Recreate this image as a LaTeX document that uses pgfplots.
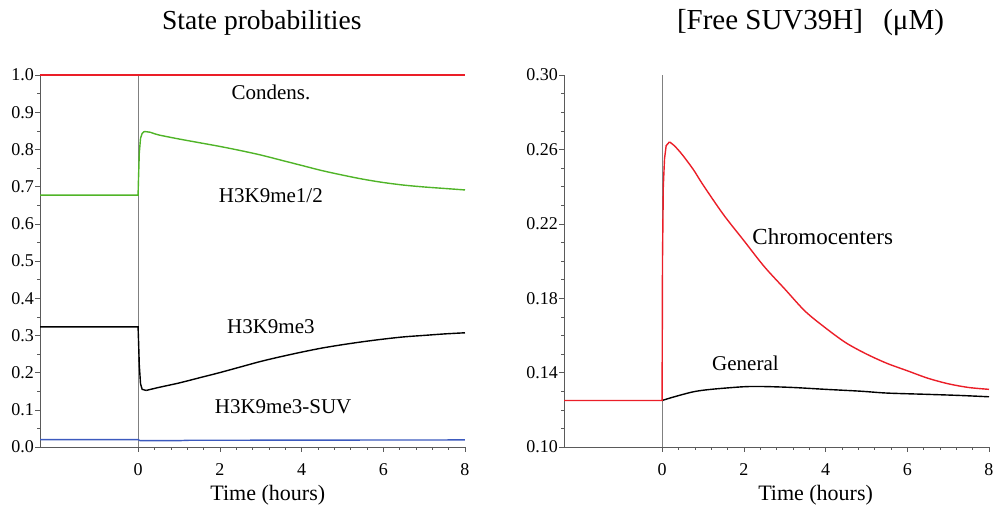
\documentclass[border=0pt]{standalone}
\usepackage{pgfplots}
\pgfplotsset{compat=1.18}
\usepackage{fontspec}
\setmainfont{Liberation Serif}
\newfontfamily\tickfont{Liberation Serif}
\newcommand{\tf}{\tickfont\fontsize{18}{20}\selectfont}
\newcommand{\xt}[1]{\tf\rule{0pt}{20pt}#1}
\definecolor{cred}{RGB}{235,30,40}
\definecolor{cgreen}{RGB}{80,180,40}
\definecolor{cblue}{RGB}{60,90,190}
\definecolor{caxis}{RGB}{90,90,90}
\pgfplotsset{
  myaxis/.style={
    scale only axis, width=425pt, height=372pt,
    axis lines=left, axis line style={caxis, -, line width=0.6pt},
    xmin=-2.4, xmax=8,
    xtick={0,2,4,6,8}, minor x tick num=4,
    tick align=outside, major tick length=5pt, minor tick length=3pt,
    tick style={caxis, line width=0.5pt},
    clip=false,
    every axis plot/.append style={line width=1.4pt},
  }
}
\begin{document}
\begin{tikzpicture}
\begin{axis}[myaxis, at={(0pt,0pt)}, anchor=south west,
  xticklabels={\xt{0},\xt{2},\xt{4},\xt{6},\xt{8}},
  every y tick label/.append style={inner xsep=1pt},
  ymin=0, ymax=1, ytick={0,0.1,0.2,0.3,0.4,0.5,0.6,0.7,0.8,0.9,1.0}, minor y tick num=1,
  yticklabels={\tf 0.0,\tf 0.1,\tf 0.2,\tf 0.3,\tf 0.4,\tf 0.5,\tf 0.6,\tf 0.7,\tf 0.8,\tf 0.9,\tf 1.0},
  title={State probabilities},
  title style={font=\fontsize{27.5}{30}\selectfont, at={(axis description cs:0.522,1)}, anchor=center, yshift=46pt},
  xlabel={Time (hours)},
  xlabel style={font=\fontsize{22}{26}\selectfont, at={(axis description cs:0.536,0)}, anchor=center, yshift=-48pt},
]
\addplot[gray, line width=0.6pt] coordinates {(0,0) (0,1)};
\addplot[cred] coordinates {(-2.4,1) (8,1)};
\addplot[cgreen] coordinates {
(-2.4,0.677) (0,0.677) (0.01,0.72) (0.03,0.79) (0.06,0.83) (0.1,0.843) (0.15,0.848)};
\addplot[cgreen, smooth] coordinates {(0.15,0.848) (0.3,0.846)
(0.5,0.839) (1,0.828) (1.5,0.818) (2,0.808) (2.5,0.797) (3,0.785) (3.5,0.771) (4,0.757)
(4.5,0.743) (5,0.731) (5.5,0.720) (6,0.711) (6.5,0.704) (7,0.699) (7.5,0.695) (8,0.691)};
\addplot[black] coordinates {
(-2.4,0.323) (0,0.323) (0.01,0.29) (0.03,0.22) (0.06,0.17) (0.1,0.155) (0.2,0.152)};
\addplot[black, smooth] coordinates {(0.2,0.152) (0.5,0.160)
(1,0.172) (1.5,0.186) (2,0.200) (2.5,0.215) (3,0.230) (3.5,0.243) (4,0.255) (4.5,0.266)
(5,0.275) (5.5,0.283) (6,0.290) (6.5,0.296) (7,0.300) (7.5,0.304) (8,0.307)};
\addplot[cblue] coordinates {
(-2.4,0.020) (0,0.020) (0.05,0.017) (1,0.017) (1.2,0.018) (4,0.0185) (8,0.019)};
\node[font=\fontsize{21}{24}\selectfont] at (axis cs:3.25,0.954) {Condens.};
\node[font=\fontsize{21}{24}\selectfont] at (axis cs:3.25,0.675) {H3K9me1/2};
\node[font=\fontsize{21}{24}\selectfont] at (axis cs:3.25,0.323) {H3K9me3};
\node[font=\fontsize{21}{24}\selectfont] at (axis cs:3.55,0.108) {H3K9me3-SUV};
\end{axis}
\begin{axis}[myaxis, at={(524pt,0pt)}, anchor=south west,
  xticklabels={\xt{0},\xt{2},\xt{4},\xt{6},\xt{8}},
  every y tick label/.append style={inner xsep=1pt},
  ymin=0.10, ymax=0.30, ytick={0.10,0.14,0.18,0.22,0.26,0.30}, minor y tick num=3,
  yticklabels={\tf 0.10,\tf 0.14,\tf 0.18,\tf 0.22,\tf 0.26,\tf 0.30},
  title={[Free SUV39H]\hspace{0.7em}(μM)},
  title style={font=\fontsize{29}{32}\selectfont, at={(axis description cs:0.58,1)}, anchor=center, yshift=46pt},
  xlabel={Time (hours)},
  xlabel style={font=\fontsize{22}{26}\selectfont, at={(axis description cs:0.592,0)}, anchor=center, yshift=-48pt},
]
\addplot[gray, line width=0.6pt] coordinates {(0,0.10) (0,0.30)};
\addplot[black, smooth] coordinates {
(0,0.125) (0.3,0.127) (0.77,0.1297) (1.2,0.131) (2,0.1324) (2.5,0.1325) (3.2,0.132) (4,0.131)
(4.86,0.130) (5.5,0.129) (6.5,0.1283) (7.3,0.1277) (8,0.127)};
\addplot[cred] coordinates {
(-2.4,0.125) (0,0.125) (0.005,0.16) (0.01,0.20) (0.03,0.24) (0.06,0.255) (0.1,0.262) (0.18,0.264)};
\addplot[cred, smooth] coordinates {(0.18,0.264)
(0.3,0.262) (0.5,0.257) (0.77,0.249) (1,0.241) (1.5,0.225) (2,0.211) (2.5,0.197) (3,0.185)
(3.5,0.173) (4,0.164) (4.5,0.156) (5,0.150) (5.5,0.145) (6,0.141)
(6.5,0.137) (7,0.134) (7.5,0.132) (8,0.131)};
\node[font=\fontsize{23}{26}\selectfont] at (axis cs:3.93,0.213) {Chromocenters};
\node[font=\fontsize{21}{24}\selectfont] at (axis cs:2.04,0.145) {General};
\end{axis}
\pgfresetboundingbox
\useasboundingbox (-40pt,-64pt) rectangle (954pt,447pt);
\end{tikzpicture}
\end{document}
